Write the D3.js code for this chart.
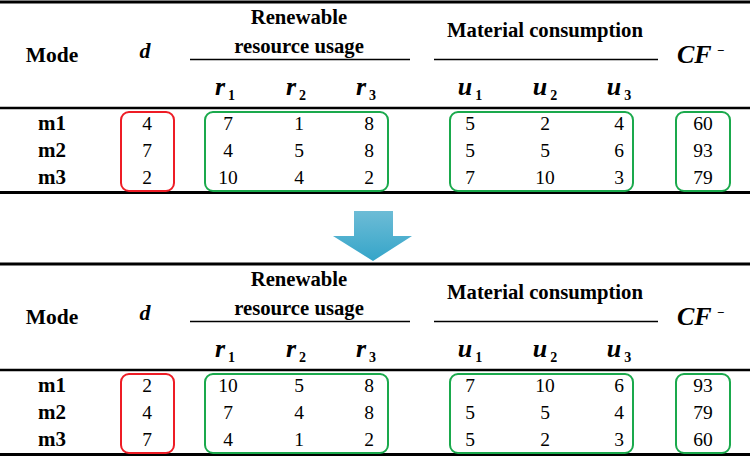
<!DOCTYPE html>
<html>
<head>
<meta charset="utf-8">
<script src="https://d3js.org/d3.v7.min.js"></script>
<style>
  body { margin: 0; background: #fff; }
</style>
</head>
<body>
<div id="container"></div>
<script>
// table data: before and after re-ordering of modes
const modes = ['m1', 'm2', 'm3'];
const resKeys = ['r', 'r', 'r'];
const matKeys = ['u', 'u', 'u'];

const dBefore = [4, 7, 2];
const rBefore = [[7, 1, 8], [4, 5, 8], [10, 4, 2]];
const uBefore = [[5, 2, 4], [5, 5, 6], [7, 10, 3]];
const cfBefore = [60, 93, 79];

const dAfter = [2, 4, 7];
const rAfter = [[10, 5, 8], [7, 4, 8], [4, 1, 2]];
const uAfter = [[7, 10, 6], [5, 5, 4], [5, 2, 3]];
const cfAfter = [93, 79, 60];

const w = 750;
const h = 458;
const font = '"Liberation Serif", "Times New Roman", serif';

// column centres
const cols = ['mode', 'd', 'r1', 'r2', 'r3', 'u1', 'u2', 'u3', 'cf'];
const xScale = d3.scaleOrdinal()
    .domain(cols)
    .range([52, 147, 228, 299, 369, 470, 545, 619, 703]);

// row centres inside one table
const yScale = d3.scalePoint()
    .domain(modes)
    .range([123, 177]);

const svg = d3.select('#container')
    .append('svg')
    .attr('width', w)
    .attr('height', h)
    .style('font-family', font);

function drawTable(offset, dVals, rVals, uVals, cfVals) {
    const g = svg.append('g').attr('transform', `translate(0, ${offset})`);

    // rules
    [[2, 3.2], [108, 2.6], [192.5, 3.2]].forEach(([y, sw]) => {
        g.append('line').attr('x1', 0).attr('x2', w).attr('y1', y).attr('y2', y)
            .attr('stroke', '#000').attr('stroke-width', sw);
    });
    [[190, 410], [434, 658]].forEach(([a, b]) => {
        g.append('line').attr('x1', a).attr('x2', b).attr('y1', 59.5).attr('y2', 59.5)
            .attr('stroke', '#000').attr('stroke-width', 1.6);
    });

    // header
    const bold = (x, y, t, size) => g.append('text')
        .attr('x', x).attr('y', y).attr('dy', '0.35em')
        .attr('text-anchor', 'middle')
        .attr('font-weight', 'bold')
        .attr('font-size', size || 20.7)
        .style('font-family', font)
        .text(t);

    bold(xScale('mode'), 54, 'Mode', 21.5);
    bold(299, 17, 'Renewable');
    bold(299, 46, 'resource usage');
    bold(545, 30, 'Material consumption');

    g.append('text')
        .attr('x', 145).attr('y', 50).attr('dy', '0.35em')
        .attr('text-anchor', 'middle')
        .attr('font-style', 'italic').attr('font-weight', 'bold')
        .attr('font-size', 22)
        .style('font-family', font)
        .text('d');

    const cf = g.append('text')
        .attr('x', 677).attr('y', 54).attr('dy', '0.35em')
        .attr('font-style', 'italic').attr('font-weight', 'bold')
        .attr('font-size', 26)
        .style('font-family', font);
    cf.append('tspan').text('CF');
    cf.append('tspan').attr('dx', 5).attr('dy', -8).attr('font-size', 13).text('−');

    const sub = (x, letter, i) => {
        const t = g.append('text')
            .attr('x', x).attr('y', 86).attr('dy', '0.35em')
            .attr('text-anchor', 'middle')
            .attr('font-weight', 'bold').attr('font-size', 26)
            .style('font-family', font);
        t.append('tspan').attr('font-style', 'italic').text(letter);
        t.append('tspan').attr('dx', 3).attr('dy', 5).attr('font-size', 14).text(i + 1);
    };
    resKeys.forEach((k, i) => sub(xScale('r' + (i + 1)) - 3, k, i));
    matKeys.forEach((k, i) => sub(xScale('u' + (i + 1)), k, i));

    // body
    const rows = g.selectAll('.row')
        .data(modes)
        .join('g')
        .attr('class', 'row')
        .attr('transform', (m) => `translate(0, ${yScale(m)})`);

    rows.append('text')
        .attr('x', xScale('mode')).attr('dy', '0.35em')
        .attr('text-anchor', 'middle')
        .attr('font-weight', 'bold').attr('font-size', 21)
        .style('font-family', font)
        .text((m) => m);

    const cell = (key, fn) => rows.append('text')
        .attr('x', xScale(key)).attr('dy', '0.35em')
        .attr('text-anchor', 'middle')
        .attr('font-size', 19.5)
        .style('font-family', font)
        .text((m, i) => fn(i));

    cell('d', (i) => dVals[i]);
    [0, 1, 2].forEach((j) => {
        cell('r' + (j + 1), (i) => rVals[i][j]);
        cell('u' + (j + 1), (i) => uVals[i][j]);
    });
    cell('cf', (i) => cfVals[i]);

    // highlight boxes
    const boxes = [
        [121, 174, '#ee1c25'],
        [205, 388, '#1aa94c'],
        [450, 633, '#1aa94c'],
        [676, 730, '#1aa94c']
    ];
    g.selectAll('.box')
        .data(boxes)
        .join('rect')
        .attr('class', 'box')
        .attr('x', (b) => b[0])
        .attr('y', 112)
        .attr('width', (b) => b[1] - b[0])
        .attr('height', 79)
        .attr('rx', 8)
        .attr('fill', 'none')
        .attr('stroke', (b) => b[2])
        .attr('stroke-width', 2);
}

drawTable(0, dBefore, rBefore, uBefore, cfBefore);
drawTable(262, dAfter, rAfter, uAfter, cfAfter);

// arrow between tables
const defs = svg.append('defs');
const grad = defs.append('linearGradient')
    .attr('id', 'arrowGrad').attr('x1', 0).attr('y1', 0).attr('x2', 0).attr('y2', 1);
grad.append('stop').attr('offset', '0%').attr('stop-color', '#6dbcd6');
grad.append('stop').attr('offset', '100%').attr('stop-color', '#35a5c9');

svg.append('path')
    .attr('d', 'M354,211 L393,211 L393,236 L412,236 L373,261 L333,236 L354,236 Z')
    .attr('fill', 'url(#arrowGrad)');
</script>
</body>
</html>
